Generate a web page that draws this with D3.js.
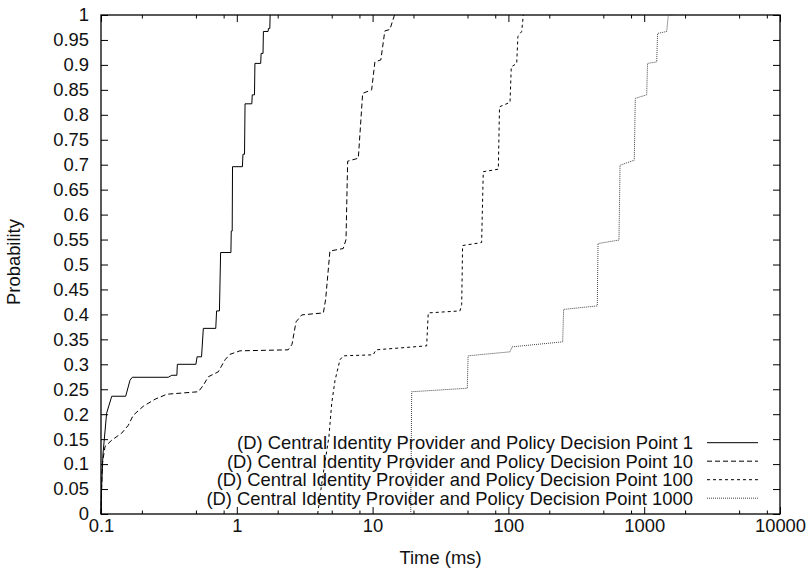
<!DOCTYPE html>
<html><head><meta charset="utf-8">
<script src="https://cdn.jsdelivr.net/npm/d3@7"></script>
<style>
body{margin:0;background:#fff}
text{font-family:"Liberation Sans",Arial,Helvetica,sans-serif;fill:#111}
</style>
</head><body><svg id="c" width="811" height="571"></svg>
<script>
// ---- data ----
const xTickValues = [0.1, 1, 10, 100, 1000, 10000];
const xTickLabels = ["0.1", "1", "10", "100", "1000", "10000"];
const xMinorMultipliers = [2, 5, 8];
const yTickValues = [0,0.05,0.1,0.15,0.2,0.25,0.3,0.35,0.4,0.45,0.5,0.55,0.6,0.65,0.7,0.75,0.8,0.85,0.9,0.95,1];
const yTickLabels = ["0","0.05","0.1","0.15","0.2","0.25","0.3","0.35","0.4","0.45","0.5","0.55","0.6","0.65","0.7","0.75","0.8","0.85","0.9","0.95","1"];
const xTitle = "Time (ms)";
const yTitle = "Probability";
const seriesNames = [
  "(D) Central Identity Provider and Policy Decision Point 1",
  "(D) Central Identity Provider and Policy Decision Point 10",
  "(D) Central Identity Provider and Policy Decision Point 100",
  "(D) Central Identity Provider and Policy Decision Point 1000"
];
// [time (ms), cumulative probability]
const cdf1 = [[0.1,0],[0.1009,0.05],[0.1034,0.12],[0.110,0.202],[0.120,0.236],[0.152,0.236],[0.1635,0.268],[0.170,0.274],
  [0.313,0.274],[0.332,0.278],[0.362,0.278],[0.365,0.30],[0.50,0.30],[0.51,0.315],[0.55,0.315],[0.567,0.372],[0.70,0.372],
  [0.71,0.407],[0.745,0.407],[0.76,0.524],[0.905,0.524],[0.91,0.567],[0.925,0.567],[0.93,0.696],[1.10,0.696],[1.11,0.721],
  [1.14,0.721],[1.15,0.822],[1.29,0.822],[1.30,0.840],[1.35,0.840],[1.36,0.903],[1.50,0.903],[1.51,0.923],[1.56,0.923],
  [1.57,0.967],[1.70,0.967],[1.71,0.973],[1.75,0.973],[1.76,1.0]];
const cdf10 = [[0.1,0],[0.1022,0.10],[0.107,0.135],[0.120,0.148],[0.142,0.162],[0.159,0.178],[0.173,0.198],[0.205,0.216],
  [0.25,0.23],[0.305,0.24],[0.521,0.245],[0.567,0.258],[0.617,0.275],[0.731,0.285],[0.819,0.309],[0.891,0.32],[1.056,0.327],
  [2.39,0.329],[2.55,0.34],[2.73,0.385],[3.01,0.399],[4.34,0.403],[4.51,0.43],[4.85,0.527],[6.08,0.532],[6.37,0.55],
  [6.55,0.707],[7.85,0.713],[8.45,0.843],[9.84,0.850],[10.4,0.906],[11.5,0.91],[12.3,0.968],[13.4,0.971],[14.5,1.0]];
const cdf100 = [[3.94,0],[4.17,0.05],[4.22,0.061],[4.77,0.155],[5.0,0.222],[5.29,0.268],[5.75,0.309],[6.08,0.317],
  [10.1,0.319],[10.6,0.329],[25.0,0.337],[25.7,0.403],[44.0,0.407],[45.3,0.42],[46.0,0.538],[63.5,0.544],[65.3,0.686],
  [84.3,0.691],[86.0,0.816],[102.8,0.825],[105,0.896],[115.1,0.903],[117.5,0.957],[125.3,0.967],[128.8,1.0]];
const cdf1000 = [[19.1,0],[19.4,0.245],[49.8,0.252],[50.5,0.317],[102.8,0.325],[106.4,0.335],[251,0.345],[255,0.41],
  [451.5,0.417],[457,0.542],[652,0.549],[664,0.699],[845,0.709],[860,0.833],[1043,0.840],[1058,0.903],[1236,0.906],
  [1255,0.963],[1465,0.967],[1505,1.0],[1640,1.0]];
const seriesData = [cdf1, cdf10, cdf100, cdf1000];
const seriesDash = [null, "5,3", "3,3", "1,1"];
const seriesColor = ["#000", "#000", "#000", "#444"];

// ---- layout ----
const FS = 18.4;
const L = 101, R = 780, T = 15, B = 514;
const svg = d3.select("#c");
const x = d3.scaleLog().domain([0.1, 10000]).range([L, R]);
const y = d3.scaleLinear().domain([0, 1]).range([B, T]);

const minorTicks = [];
xTickValues.slice(0, -1).forEach(v => xMinorMultipliers.forEach(m => minorTicks.push(v * m)));

const fmtX = d => xTickLabels[xTickValues.indexOf(d)];
const fmtY = d => yTickLabels[yTickValues.indexOf(d)];

function styleAxis(g) {
  g.select(".domain").remove();
  g.selectAll(".tick line").attr("stroke", "#000").attr("stroke-width", 1);
  g.selectAll("text").attr("font-size", FS).attr("fill", "#111")
   .style("font-family", '"Liberation Sans",Arial,Helvetica,sans-serif');
}

// bottom axis
svg.append("g").attr("transform", `translate(0,${B})`)
  .call(d3.axisBottom(x).tickValues(xTickValues).tickFormat(fmtX).tickSize(-7).tickPadding(5)).call(styleAxis);
svg.append("g").attr("transform", `translate(0,${B})`)
  .call(d3.axisBottom(x).tickValues(minorTicks).tickFormat("").tickSize(-3.5)).call(styleAxis);
// top axis (mirror)
svg.append("g").attr("transform", `translate(0,${T})`)
  .call(d3.axisTop(x).tickValues(xTickValues).tickFormat("").tickSize(-7)).call(styleAxis);
svg.append("g").attr("transform", `translate(0,${T})`)
  .call(d3.axisTop(x).tickValues(minorTicks).tickFormat("").tickSize(-3.5)).call(styleAxis);
// left axis
svg.append("g").attr("transform", `translate(${L},0)`)
  .call(d3.axisLeft(y).tickValues(yTickValues).tickFormat(fmtY).tickSize(-7).tickPadding(12)).call(styleAxis);
// right axis (mirror)
svg.append("g").attr("transform", `translate(${R},0)`)
  .call(d3.axisRight(y).tickValues(yTickValues).tickFormat("").tickSize(-7)).call(styleAxis);

// frame
svg.append("rect").attr("x", L).attr("y", T).attr("width", R - L).attr("height", B - T)
  .attr("fill", "none").attr("stroke", "#000").attr("stroke-width", 1.3);

// series
const line = d3.line().x(d => x(d[0])).y(d => y(d[1]));
seriesData.forEach((data, i) => {
  svg.append("path").datum(data).attr("d", line)
    .attr("fill", "none").attr("stroke", seriesColor[i]).attr("stroke-width", 1)
    .attr("stroke-dasharray", seriesDash[i]);
});

// titles
svg.append("text").attr("x", (L + R) / 2).attr("y", 564).attr("text-anchor", "middle")
  .attr("font-size", FS).text(xTitle);
svg.append("text").attr("transform", `translate(20,262) rotate(-90)`).attr("text-anchor", "middle")
  .attr("font-size", FS).text(yTitle);

// legend
const legY0 = 442.7, legDy = 18.5;
seriesNames.forEach((name, i) => {
  const yy = legY0 + i * legDy;
  svg.append("text").attr("x", 693).attr("y", yy).attr("dy", "0.35em").attr("text-anchor", "end")
    .attr("font-size", FS).text(name);
  svg.append("line").attr("x1", 707).attr("x2", 758).attr("y1", yy).attr("y2", yy)
    .attr("stroke", seriesColor[i]).attr("stroke-width", 1).attr("stroke-dasharray", seriesDash[i]);
});
</script>
</body></html>
